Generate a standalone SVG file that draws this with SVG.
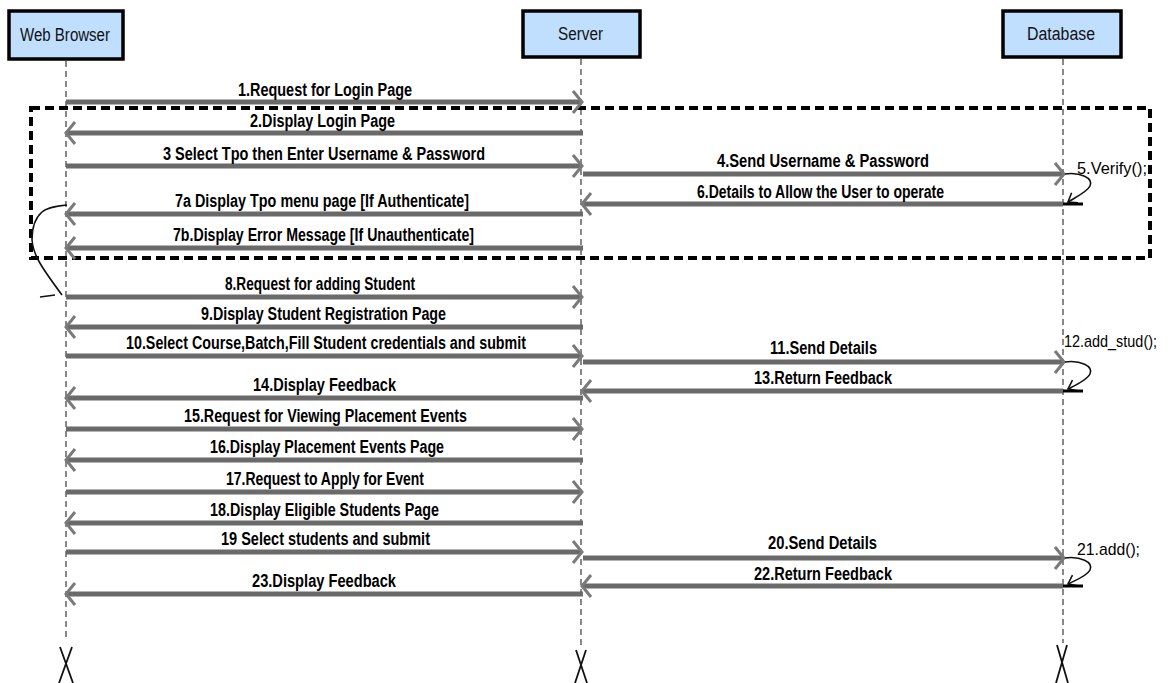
<svg xmlns="http://www.w3.org/2000/svg" width="1176" height="683" viewBox="0 0 1176 683">
<style>
.bg{fill:#ffffff}
.box{fill:#c0dfff;stroke:#000;stroke-width:3.5}
.bt{font-family:"Liberation Sans",Arial,sans-serif;font-size:18px;fill:#111}
.life{stroke:#888;stroke-width:2;stroke-dasharray:6 4;fill:none}
.msg{stroke:#6a6a6a;stroke-width:5;fill:none;marker-end:url(#ah)}
.lbl{font-family:"Liberation Sans",Arial,sans-serif;font-size:18px;font-weight:bold;fill:#000}
.slf{font-family:"Liberation Sans",Arial,sans-serif;font-size:17px;fill:#000}
.frag{fill:none;stroke:#000;stroke-width:4;stroke-dasharray:9 5}
.self{fill:none;stroke:#111;stroke-width:1.6}
.tick{stroke:#000;stroke-width:3}
.x{stroke:#111;stroke-width:1.8;fill:none}
</style>
<defs>
<marker id="ah" markerWidth="16" markerHeight="28" refX="12" refY="14" orient="auto" markerUnits="userSpaceOnUse">
<path d="M3,3 L12,14 L3,25" fill="none" stroke="#7a7a7a" stroke-width="3"/>
</marker>
<marker id="sh" markerWidth="16" markerHeight="16" refX="12" refY="8" orient="auto" markerUnits="userSpaceOnUse">
<path d="M4,2 L12,8 L4,14" fill="none" stroke="#111" stroke-width="1.6"/>
</marker>
</defs>
<rect class="bg" x="0" y="0" width="1176" height="683"/>

<g id="lifelines">
<line class="life" x1="66" y1="61" x2="66" y2="637"/>
<line class="life" x1="581" y1="59" x2="581" y2="648"/>
<line class="life" x1="1063" y1="59" x2="1063" y2="643"/>
</g>

<g id="web-browser">
<rect class="box" x="9" y="11" width="114" height="48"/>
<text class="bt" x="20" y="41" textLength="90" lengthAdjust="spacingAndGlyphs">Web Browser</text>
</g>
<g id="server">
<rect class="box" x="523" y="11" width="117" height="46"/>
<text class="bt" x="558" y="40" textLength="45" lengthAdjust="spacingAndGlyphs">Server</text>
</g>
<g id="database">
<rect class="box" x="1003" y="11" width="118" height="46"/>
<text class="bt" x="1027" y="40" textLength="68" lengthAdjust="spacingAndGlyphs">Database</text>
</g>

<g id="fragment">
<rect class="frag" x="31" y="108" width="1119" height="150"/>
</g>

<g id="connectors">
<line class="msg" x1="66" y1="102" x2="582" y2="102"/>
<line class="msg" x1="583" y1="133" x2="66" y2="133"/>
<line class="msg" x1="66" y1="166" x2="582" y2="166"/>
<line class="msg" x1="583" y1="174" x2="1064" y2="174"/>
<line class="msg" x1="1063" y1="204" x2="582" y2="204"/>
<line class="msg" x1="583" y1="214" x2="66" y2="214"/>
<line class="msg" x1="583" y1="248" x2="66" y2="248"/>
<line class="msg" x1="66" y1="297" x2="582" y2="297"/>
<line class="msg" x1="583" y1="327" x2="66" y2="327"/>
<line class="msg" x1="66" y1="356" x2="582" y2="356"/>
<line class="msg" x1="583" y1="362" x2="1064" y2="362"/>
<line class="msg" x1="1063" y1="391" x2="582" y2="391"/>
<line class="msg" x1="583" y1="398" x2="66" y2="398"/>
<line class="msg" x1="66" y1="429" x2="582" y2="429"/>
<line class="msg" x1="583" y1="460" x2="66" y2="460"/>
<line class="msg" x1="66" y1="492" x2="582" y2="492"/>
<line class="msg" x1="583" y1="523" x2="66" y2="523"/>
<line class="msg" x1="66" y1="552" x2="582" y2="552"/>
<line class="msg" x1="583" y1="558" x2="1064" y2="558"/>
<line class="msg" x1="1063" y1="586" x2="582" y2="586"/>
<line class="msg" x1="583" y1="594" x2="66" y2="594"/>

<path class="self" d="M1065,174 C1080,172 1094,178 1090,186 C1087,192 1076,197 1068,202" marker-end="url(#sh)"/>
<line class="tick" x1="1063" y1="204" x2="1083" y2="204"/>
<path class="self" d="M1065,362 C1080,360 1094,366 1090,374 C1087,380 1076,385 1068,389" marker-end="url(#sh)"/>
<line class="tick" x1="1063" y1="391" x2="1083" y2="391"/>
<path class="self" d="M1065,558 C1080,556 1094,562 1090,570 C1087,576 1076,580 1068,584" marker-end="url(#sh)"/>
<line class="tick" x1="1063" y1="586" x2="1083" y2="586"/>

<path class="self" d="M67,205 C58,206 48,207 42,212 C35,218 32,228 32,240 C33,255 42,268 62,295"/>
<line class="self" x1="40" y1="297" x2="55" y2="295"/>
</g>

<g id="labels">
<text class="lbl" x="238" y="96" textLength="174" lengthAdjust="spacingAndGlyphs">1.Request for Login Page</text>
<text class="lbl" x="250" y="127" textLength="145" lengthAdjust="spacingAndGlyphs">2.Display Login Page</text>
<text class="lbl" x="163" y="160" textLength="322" lengthAdjust="spacingAndGlyphs">3 Select Tpo then Enter Username &amp; Password</text>
<text class="lbl" x="717" y="167" textLength="212" lengthAdjust="spacingAndGlyphs">4.Send Username &amp; Password</text>
<text class="slf" x="1077" y="174" textLength="70" lengthAdjust="spacingAndGlyphs">5.Verify();</text>
<text class="lbl" x="697" y="198" textLength="247" lengthAdjust="spacingAndGlyphs">6.Details to Allow the User to operate</text>
<text class="lbl" x="175" y="207" textLength="294" lengthAdjust="spacingAndGlyphs">7a Display Tpo menu page [If Authenticate]</text>
<text class="lbl" x="173" y="241" textLength="301" lengthAdjust="spacingAndGlyphs">7b.Display Error Message [If Unauthenticate]</text>
<text class="lbl" x="225" y="290" textLength="190" lengthAdjust="spacingAndGlyphs">8.Request for adding Student</text>
<text class="lbl" x="201" y="320" textLength="245" lengthAdjust="spacingAndGlyphs">9.Display Student Registration Page</text>
<text class="lbl" x="126" y="349" textLength="400" lengthAdjust="spacingAndGlyphs">10.Select Course,Batch,Fill Student credentials and submit</text>
<text class="lbl" x="770" y="354" textLength="107" lengthAdjust="spacingAndGlyphs">11.Send Details</text>
<text class="slf" x="1064" y="347" textLength="93" lengthAdjust="spacingAndGlyphs">12.add_stud();</text>
<text class="lbl" x="754" y="384" textLength="138" lengthAdjust="spacingAndGlyphs">13.Return Feedback</text>
<text class="lbl" x="253" y="391" textLength="143" lengthAdjust="spacingAndGlyphs">14.Display Feedback</text>
<text class="lbl" x="184" y="422" textLength="283" lengthAdjust="spacingAndGlyphs">15.Request for Viewing Placement Events</text>
<text class="lbl" x="210" y="453" textLength="234" lengthAdjust="spacingAndGlyphs">16.Display Placement Events Page</text>
<text class="lbl" x="226" y="485" textLength="198" lengthAdjust="spacingAndGlyphs">17.Request to Apply for Event</text>
<text class="lbl" x="210" y="516" textLength="229" lengthAdjust="spacingAndGlyphs">18.Display Eligible Students Page</text>
<text class="lbl" x="221" y="545" textLength="209" lengthAdjust="spacingAndGlyphs">19 Select students and submit</text>
<text class="lbl" x="768" y="549" textLength="109" lengthAdjust="spacingAndGlyphs">20.Send Details</text>
<text class="slf" x="1077" y="555" textLength="63" lengthAdjust="spacingAndGlyphs">21.add();</text>
<text class="lbl" x="754" y="580" textLength="138" lengthAdjust="spacingAndGlyphs">22.Return Feedback</text>
<text class="lbl" x="252" y="587" textLength="144" lengthAdjust="spacingAndGlyphs">23.Display Feedback</text>
</g>

<g id="destroy-marks">
<path class="x" d="M60,647 L73,683 M72,647 L59,683"/>
<path class="x" d="M576,650 L587,683 M586,650 L575,683"/>
<path class="x" d="M1057,645 L1068,683 M1067,645 L1056,683"/>
</g>
</svg>
